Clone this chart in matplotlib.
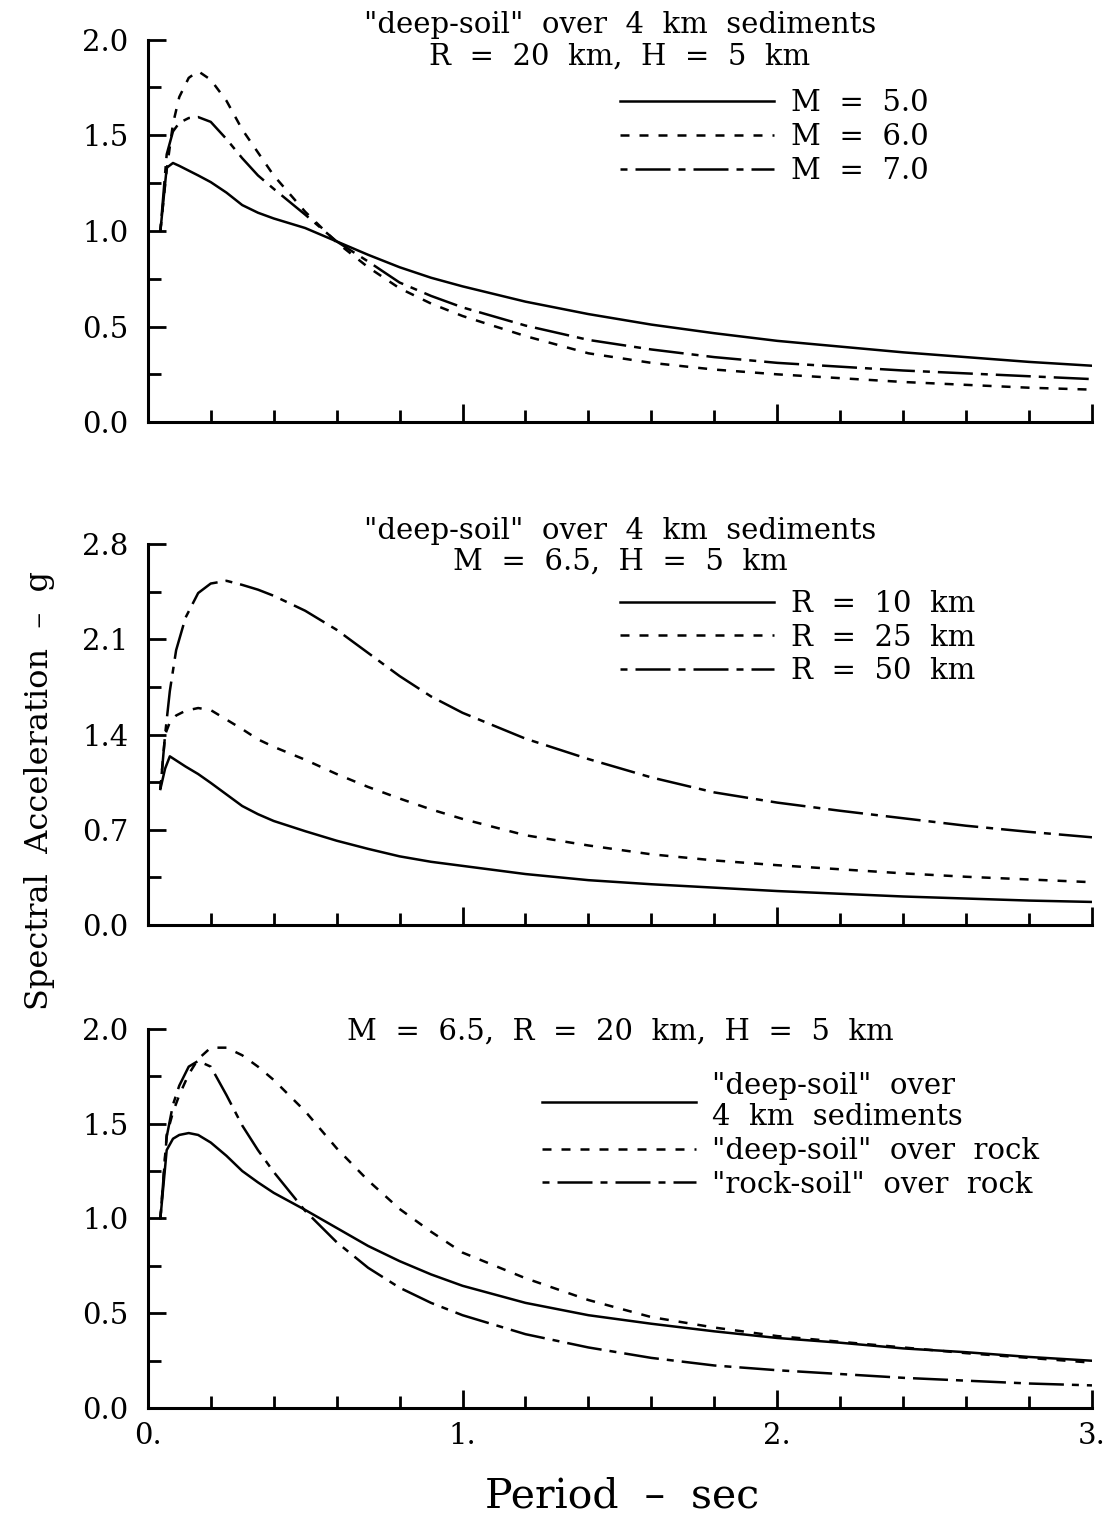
import matplotlib
matplotlib.use('Agg')
import matplotlib.pyplot as plt
from matplotlib.ticker import MultipleLocator, FuncFormatter

plt.rcParams['font.family'] = 'DejaVu Serif'

# --- top panel: magnitude comparison (R = 20 km, H = 5 km)
period_top = [0.04, 0.06, 0.08, 0.10, 0.13, 0.16, 0.20, 0.25, 0.30, 0.35, 0.40, 0.50,
              0.60, 0.70, 0.80, 0.90, 1.0, 1.2, 1.4, 1.6, 1.8, 2.0, 2.2, 2.4, 2.6, 2.8, 3.0]
sa_m50 = [1.0, 1.33, 1.355, 1.34, 1.315, 1.29, 1.255, 1.20, 1.135, 1.095, 1.065, 1.015,
          0.945, 0.875, 0.81, 0.755, 0.71, 0.63, 0.565, 0.51, 0.465, 0.425, 0.395, 0.365, 0.34, 0.315, 0.295]
sa_m60 = [1.0, 1.32, 1.56, 1.70, 1.80, 1.835, 1.79, 1.68, 1.53, 1.41, 1.29, 1.10,
          0.94, 0.81, 0.70, 0.62, 0.555, 0.45, 0.36, 0.31, 0.275, 0.25, 0.23, 0.21, 0.195, 0.18, 0.17]
sa_m70 = [1.0, 1.40, 1.52, 1.565, 1.59, 1.595, 1.57, 1.48, 1.38, 1.29, 1.22, 1.085,
          0.945, 0.84, 0.73, 0.66, 0.60, 0.505, 0.43, 0.38, 0.34, 0.31, 0.29, 0.27, 0.255, 0.24, 0.225]

# --- middle panel: distance comparison (M = 6.5, H = 5 km)
period_mid = [0.04, 0.055, 0.07, 0.09, 0.12, 0.16, 0.20, 0.25, 0.30, 0.35, 0.40, 0.50,
              0.60, 0.70, 0.80, 0.90, 1.0, 1.2, 1.4, 1.6, 1.8, 2.0, 2.2, 2.4, 2.6, 2.8, 3.0]
sa_r10 = [1.0, 1.15, 1.24, 1.21, 1.165, 1.11, 1.045, 0.96, 0.875, 0.815, 0.765, 0.69,
          0.62, 0.56, 0.505, 0.465, 0.435, 0.375, 0.33, 0.30, 0.275, 0.25, 0.23, 0.21, 0.195, 0.18, 0.17]
sa_r25 = [1.0, 1.40, 1.49, 1.54, 1.575, 1.595, 1.58, 1.51, 1.44, 1.365, 1.31, 1.215,
          1.11, 1.015, 0.93, 0.85, 0.78, 0.66, 0.585, 0.52, 0.475, 0.44, 0.41, 0.38, 0.355, 0.335, 0.315]
sa_r50 = [1.0, 1.40, 1.72, 2.02, 2.26, 2.44, 2.51, 2.53, 2.50, 2.465, 2.42, 2.31,
          2.17, 2.00, 1.83, 1.68, 1.56, 1.37, 1.22, 1.085, 0.975, 0.90, 0.84, 0.785, 0.73, 0.685, 0.645]

# --- bottom panel: site comparison (M = 6.5, R = 20 km, H = 5 km)
period_bot = [0.04, 0.06, 0.08, 0.10, 0.13, 0.16, 0.20, 0.25, 0.30, 0.35, 0.40, 0.50,
              0.60, 0.70, 0.80, 0.90, 1.0, 1.2, 1.4, 1.6, 1.8, 2.0, 2.2, 2.4, 2.6, 2.8, 3.0]
sa_deep_sed = [1.0, 1.36, 1.42, 1.44, 1.45, 1.44, 1.40, 1.33, 1.25, 1.19, 1.135, 1.045,
               0.95, 0.855, 0.775, 0.705, 0.645, 0.555, 0.49, 0.445, 0.405, 0.37, 0.345, 0.315, 0.295, 0.27, 0.25]
sa_deep_rock = [1.0, 1.44, 1.56, 1.65, 1.76, 1.84, 1.90, 1.90, 1.86, 1.80, 1.73, 1.565,
                1.37, 1.20, 1.05, 0.93, 0.82, 0.685, 0.57, 0.48, 0.425, 0.38, 0.35, 0.32, 0.29, 0.265, 0.24]
sa_rock_rock = [1.0, 1.43, 1.60, 1.70, 1.80, 1.83, 1.80, 1.65, 1.49, 1.36, 1.245, 1.04,
                0.875, 0.74, 0.635, 0.555, 0.49, 0.39, 0.32, 0.265, 0.225, 0.20, 0.18, 0.16, 0.145, 0.13, 0.12]

SOLID = '-'
DASHED = (0, (3.6, 4.0))
DASHDOT = (0, (2.8, 3.2, 14.0, 3.2))
LW = 1.8
TXT = 21


def style_axis(ax, ymax, ystep, show_x):
    ax.set_xlim(0, 3)
    ax.set_ylim(0, ymax)
    ax.spines['top'].set_visible(False)
    ax.spines['right'].set_visible(False)
    for s in ['left', 'bottom']:
        ax.spines[s].set_linewidth(2.2)
    ax.xaxis.set_major_locator(MultipleLocator(1))
    ax.xaxis.set_minor_locator(MultipleLocator(0.2))
    ax.yaxis.set_major_locator(MultipleLocator(ystep))
    ax.yaxis.set_minor_locator(MultipleLocator(ystep / 2))
    ax.yaxis.set_major_formatter(FuncFormatter(lambda v, p: f'{v:.1f}'))
    ax.xaxis.set_major_formatter(FuncFormatter(lambda v, p: f'{v:.0f}.'))
    ax.tick_params(which='both', direction='in', width=2)
    ax.tick_params(which='major', length=13, labelsize=21)
    ax.tick_params(which='minor', length=9)
    ax.tick_params(axis='y', pad=14)
    ax.tick_params(axis='x', pad=10, labelbottom=show_x)


def add_legend(ax, x, y):
    leg = ax.legend(loc='upper left', bbox_to_anchor=(x, y), frameon=False, fontsize=TXT,
                    handlelength=5.3, handletextpad=0.55, labelspacing=0.2,
                    borderpad=0, borderaxespad=0)
    for t in leg.get_texts():
        t.set_linespacing(1.12)
    return leg


fig = plt.figure(figsize=(11.03, 15.24), dpi=100)

# top panel
ax1 = fig.add_axes([0.134, 0.723, 0.856, 0.251])
ax1.plot(period_top, sa_m50, color='black', lw=LW, ls=SOLID, label='M  =  5.0')
ax1.plot(period_top, sa_m60, color='black', lw=LW, ls=DASHED, label='M  =  6.0')
ax1.plot(period_top, sa_m70, color='black', lw=LW, ls=DASHDOT, label='M  =  7.0')
style_axis(ax1, 2.0, 0.5, False)
ax1.text(0.5, 1.075, '"deep-soil"  over  4  km  sediments\nR  =  20  km,  H  =  5  km',
         transform=ax1.transAxes, ha='center', va='top', fontsize=TXT, linespacing=1.15)
add_legend(ax1, 0.5, 0.87)

# middle panel
ax2 = fig.add_axes([0.134, 0.393, 0.856, 0.250])
ax2.plot(period_mid, sa_r10, color='black', lw=LW, ls=SOLID, label='R  =  10  km')
ax2.plot(period_mid, sa_r25, color='black', lw=LW, ls=DASHED, label='R  =  25  km')
ax2.plot(period_mid, sa_r50, color='black', lw=LW, ls=DASHDOT, label='R  =  50  km')
style_axis(ax2, 2.8, 0.7, False)
ax2.text(0.5, 1.072, '"deep-soil"  over  4  km  sediments\nM  =  6.5,  H  =  5  km',
         transform=ax2.transAxes, ha='center', va='top', fontsize=TXT, linespacing=1.15)
add_legend(ax2, 0.5, 0.88)

# bottom panel
ax3 = fig.add_axes([0.134, 0.076, 0.856, 0.249])
ax3.plot(period_bot, sa_deep_sed, color='black', lw=LW, ls=SOLID,
         label='"deep-soil"  over\n4  km  sediments')
ax3.plot(period_bot, sa_deep_rock, color='black', lw=LW, ls=DASHED, label='"deep-soil"  over  rock')
ax3.plot(period_bot, sa_rock_rock, color='black', lw=LW, ls=DASHDOT, label='"rock-soil"  over  rock')
style_axis(ax3, 2.0, 0.5, True)
ax3.text(0.5, 1.03, 'M  =  6.5,  R  =  20  km,  H  =  5  km',
         transform=ax3.transAxes, ha='center', va='top', fontsize=TXT)
add_legend(ax3, 0.417, 0.885)

# shared axis titles
fig.text(40 / 1103, 1 - 790 / 1524, 'Spectral  Acceleration  \u2013  g', rotation=90,
         ha='center', va='center', fontsize=23)
fig.text(622 / 1103, 1 - 1497 / 1524, 'Period  \u2013  sec', ha='center', va='center', fontsize=29.5)

fig.savefig('out.png', dpi=100)
